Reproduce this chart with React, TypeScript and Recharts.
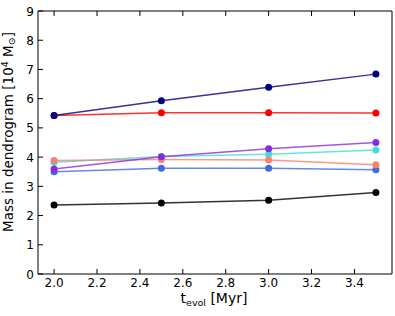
import React from 'react';
import { LineChart, Line, XAxis, YAxis } from 'recharts';

const tEvol = [2.0, 2.5, 3.0, 3.5];

const navyMass = [5.42, 5.93, 6.39, 6.84];
const redMass = [5.42, 5.52, 5.52, 5.51];
const violetMass = [3.59, 4.01, 4.29, 4.5];
const turquoiseMass = [3.82, 4.02, 4.1, 4.24];
const salmonMass = [3.88, 3.92, 3.9, 3.74];
const royalMass = [3.5, 3.62, 3.62, 3.57];
const blackMass = [2.36, 2.43, 2.52, 2.79];

const xTicks = [2.0, 2.2, 2.4, 2.6, 2.8, 3.0, 3.2, 3.4];
const yTicks = [0, 1, 2, 3, 4, 5, 6, 7, 8, 9];

const series = [
  { key: 'black', color: '#000000', values: blackMass },
  { key: 'royal', color: '#4169e1', values: royalMass },
  { key: 'turquoise', color: '#40e0d0', values: turquoiseMass },
  { key: 'salmon', color: '#fa8072', values: salmonMass },
  { key: 'violet', color: '#8a2be2', values: violetMass },
  { key: 'red', color: '#ff0000', values: redMass },
  { key: 'navy', color: '#000080', values: navyMass },
];

const data = tEvol.map((t, i) => {
  const row: Record<string, number> = { t };
  series.forEach(s => { row[s.key] = s.values[i]; });
  return row;
});

const FONT = 'DejaVu Sans';
const TICK_LEN = 5;
const GAP = 4;

// bottom axis: label below, tick going up into the plot
const BottomTick = (props: any) => {
  const { x, y, payload } = props;
  return (
    <g>
      <line x1={x} x2={x} y1={y - GAP} y2={y - GAP - TICK_LEN} stroke="#000" />
      <text x={x} y={y + 9} textAnchor="middle" fontSize={12} fontFamily={FONT} fill="#000">
        {Number(payload.value).toFixed(1)}
      </text>
    </g>
  );
};

const TopTick = (props: any) => {
  const { x, y } = props;
  return <line x1={x} x2={x} y1={y} y2={y + TICK_LEN} stroke="#000" />;
};

const LeftTick = (props: any) => {
  const { x, y, payload } = props;
  return (
    <g>
      <line x1={x + GAP} x2={x + GAP + TICK_LEN} y1={y} y2={y} stroke="#000" />
      <text x={x} y={y + 4.5} textAnchor="end" fontSize={12} fontFamily={FONT} fill="#000">
        {payload.value}
      </text>
    </g>
  );
};

const RightTick = (props: any) => {
  const { x, y } = props;
  return <line x1={x} x2={x - TICK_LEN} y1={y} y2={y} stroke="#000" />;
};

const xLabel = () => (
  <text x={214} y={303} textAnchor="middle" fontSize={14} fontFamily={FONT} fill="#000">
    t<tspan fontSize={9.5} dy={3}>evol</tspan>
    <tspan dy={-3}> [Myr]</tspan>
  </text>
);

const yLabel = () => (
  <text
    x={13}
    y={132}
    transform="rotate(-90, 13, 132)"
    textAnchor="middle"
    fontSize={13.5}
    fontFamily={FONT}
    fill="#000"
  >
    Mass in dendrogram [10<tspan fontSize={9.5} dy={-5}>4</tspan>
    <tspan dy={5}> M</tspan>
    <tspan fontSize={9.5} dy={2}>⊙</tspan>
    <tspan dy={-2}>]</tspan>
  </text>
);

export default function App() {
  return (
    <div style={{ position: 'absolute', left: 0, top: 0, width: 395, height: 316, background: '#fff' }}>
      <LineChart width={395} height={316} data={data} margin={{ top: 10, right: 2, bottom: 12, left: 8 }}>
        <XAxis
          dataKey="t"
          type="number"
          domain={[1.925, 3.575]}
          ticks={xTicks}
          allowDataOverflow
          height={30}
          tickLine={false}
          tickSize={0}
          tickMargin={GAP}
          tick={<BottomTick />}
          axisLine={{ stroke: '#000' }}
          label={xLabel}
        />
        <XAxis
          xAxisId="top"
          orientation="top"
          dataKey="t"
          type="number"
          domain={[1.925, 3.575]}
          ticks={xTicks}
          allowDataOverflow
          height={1}
          tickLine={false}
          tickSize={0}
          tickMargin={0}
          tick={<TopTick />}
          axisLine={{ stroke: '#000' }}
        />
        <YAxis
          type="number"
          domain={[0, 9]}
          ticks={yTicks}
          width={30}
          tickLine={false}
          tickSize={0}
          tickMargin={GAP}
          tick={<LeftTick />}
          axisLine={{ stroke: '#000' }}
          label={yLabel}
        />
        <YAxis
          yAxisId="right"
          orientation="right"
          type="number"
          domain={[0, 9]}
          ticks={yTicks}
          width={1}
          tickLine={false}
          tickSize={0}
          tickMargin={0}
          tick={<RightTick />}
          axisLine={{ stroke: '#000' }}
        />
        {series.map(s => (
          <Line
            key={s.key}
            dataKey={s.key}
            stroke={s.color}
            strokeWidth={1.5}
            strokeOpacity={0.8}
            dot={{ r: 3.5, fill: s.color, stroke: s.color, strokeWidth: 0 }}
            activeDot={false}
            isAnimationActive={false}
          />
        ))}
      </LineChart>
    </div>
  );
}
